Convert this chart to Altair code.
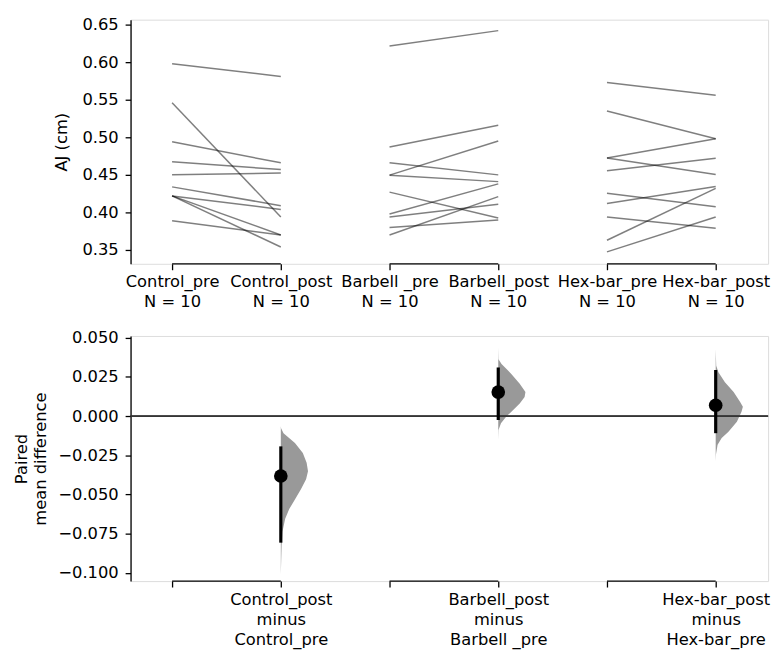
import json
import altair as alt
import pandas as pd

# ---------------- data ----------------
groups = ["Control_pre", "Control_post", "Barbell _pre", "Barbell_post",
          "Hex-bar_pre", "Hex-bar_post"]
group_n = [10, 10, 10, 10, 10, 10]

control_pre = [0.598, 0.546, 0.494, 0.4675, 0.450, 0.434, 0.422, 0.422, 0.422, 0.389]
control_post = [0.581, 0.394, 0.466, 0.457, 0.4525, 0.409, 0.404, 0.370, 0.354, 0.370]
barbell_pre = [0.6215, 0.487, 0.466, 0.4496, 0.4496, 0.427, 0.398, 0.394, 0.380, 0.370]
barbell_post = [0.642, 0.516, 0.450, 0.495, 0.441, 0.3925, 0.438, 0.411, 0.390, 0.421]
hexbar_pre = [0.573, 0.535, 0.4725, 0.4725, 0.4555, 0.4255, 0.412, 0.394, 0.363, 0.3475]
hexbar_post = [0.556, 0.498, 0.498, 0.4505, 0.472, 0.4075, 0.4345, 0.379, 0.432, 0.394]

effect_mean = [-0.0382, 0.0153, 0.0069]
ci_low = [-0.0807, -0.0025, -0.0109]
ci_high = [-0.0193, 0.0310, 0.0294]

# bootstrap distributions (value, relative density)
ctrl_kde_y = [-0.0065, -0.0077, -0.0109, -0.0172, -0.0235, -0.0298, -0.0351, -0.0403,
              -0.0466, -0.0529, -0.0592, -0.0655, -0.0738, -0.0823, -0.0948, -0.1011]
ctrl_kde_d = [0.0, 0.01, 0.10, 0.52, 0.81, 0.95, 1.0, 0.93, 0.74, 0.53, 0.31, 0.16,
              0.06, 0.03, 0.01, 0.0]
barb_kde_y = [0.0436, 0.0363, 0.0332, 0.0269, 0.0206, 0.0153, 0.0121, 0.0080, 0.0038,
              -0.0004, -0.0046, -0.0088, -0.0151]
barb_kde_d = [0.0, 0.01, 0.12, 0.48, 0.79, 1.0, 0.97, 0.79, 0.54, 0.29, 0.10, 0.01, 0.0]
hexb_kde_y = [0.0426, 0.0321, 0.0279, 0.0216, 0.0153, 0.0090, 0.0059, 0.0027, -0.0036,
              -0.0099, -0.0140, -0.0183, -0.0245, -0.0288]
hexb_kde_d = [0.0, 0.02, 0.10, 0.34, 0.66, 0.90, 1.0, 0.95, 0.78, 0.47, 0.22, 0.07, 0.01, 0.0]

top_ticks = [0.35, 0.40, 0.45, 0.50, 0.55, 0.60, 0.65]
bottom_ticks = [-0.100, -0.075, -0.050, -0.025, 0.000, 0.025, 0.050]

# ---------------- tables ----------------
pairs = [(control_pre, control_post), (barbell_pre, barbell_post), (hexbar_pre, hexbar_post)]
rows = []
for gi, (pre, post) in enumerate(pairs):
    for k, (a, b) in enumerate(zip(pre, post)):
        rows.append({"pos": 2 * gi, "value": a, "id": f"{gi}-{k}"})
        rows.append({"pos": 2 * gi + 1, "value": b, "id": f"{gi}-{k}"})
lines_df = pd.DataFrame(rows)

bracket_df = pd.DataFrame({"start": [0, 2, 4], "end": [1, 3, 5]})

VIOLIN_W = 0.25  # half-violin max width in x units
kdes = [(ctrl_kde_y, ctrl_kde_d), (barb_kde_y, barb_kde_d), (hexb_kde_y, hexb_kde_d)]
vrows = []
for gi, (ys, ds) in enumerate(kdes):
    p = 2 * gi + 1
    for y, d in zip(ys, ds):
        vrows.append({"g": gi, "pos": p, "y": y, "x2": p + d * VIOLIN_W})
violin_df = pd.DataFrame(vrows)

eff_df = pd.DataFrame({"pos": [1, 3, 5], "mean": effect_mean, "lo": ci_low, "hi": ci_high})

top_labels = [[g, f"N = {n}"] for g, n in zip(groups, group_n)]
bottom_labels = []
for i, g in enumerate(groups):
    if i % 2 == 1:
        bottom_labels.append([g, "minus", groups[i - 1]])
    else:
        bottom_labels.append([""])

FONT = "DejaVu Sans"
FS = 16.5
XDOM = [-0.382, 5.482]
TOP_DOM = [0.3316, 0.6566]
BOT_DOM = [-0.1052, 0.0511]
W = 645
H_TOP = 247
H_BOT = 248

def x_axis(labels, lh, pad):
    return alt.Axis(values=[0, 1, 2, 3, 4, 5],
                    labelExpr=json.dumps(labels) + "[datum.value]",
                    title=None, domain=False, grid=False, ticks=True, tickSize=6,
                    tickColor="black", tickWidth=1.3, labelPadding=pad,
                    labelFont=FONT, labelFontSize=FS, labelColor="black",
                    labelLineHeight=lh, labelBaseline="top", labelAlign="center",
                    labelFlush=False, labelOverlap=False)

def y_axis(values, fmt, title, tx, th, tlh):
    return alt.Axis(values=values, format=fmt, title=title, titleX=tx, titleY=th / 2,
                    titleAngle=-90, titleAlign="center", titleBaseline="middle",
                    titleFont=FONT, titleFontSize=FS, titleFontWeight="normal",
                    titleColor="black", titleLineHeight=tlh,
                    grid=False, tickSize=5.5, tickColor="black", tickWidth=1.3,
                    domainColor="black", domainWidth=1.3, labelPadding=7,
                    labelFont=FONT, labelFontSize=FS, labelColor="black")

xs_top = alt.X("pos:Q", scale=alt.Scale(domain=XDOM, nice=False, zero=False),
               axis=x_axis(top_labels, 20, 4))
ys_top = alt.Y("value:Q", scale=alt.Scale(domain=TOP_DOM, nice=False, zero=False),
               axis=y_axis(top_ticks, ".2f", "AJ (cm)", -70, H_TOP, 19))

top_lines = alt.Chart(lines_df).mark_line(color="black", opacity=0.5, strokeWidth=1.5).encode(
    x=xs_top, y=ys_top, detail="id:N")
top_brackets = alt.Chart(bracket_df).mark_rule(color="black", strokeWidth=1.3).encode(
    x=alt.X("start:Q"), x2="end:Q", y=alt.datum(TOP_DOM[0]))
top = alt.layer(top_lines, top_brackets).properties(width=W, height=H_TOP)

xs_bot = alt.X("pos:Q", scale=alt.Scale(domain=XDOM, nice=False, zero=False),
               axis=x_axis(bottom_labels, 20, 5))
ys_bot_scale = alt.Scale(domain=BOT_DOM, nice=False, zero=False)

violins = alt.Chart(violin_df).mark_area(orient="horizontal", color="#999999", opacity=1).encode(
    y=alt.Y("y:Q", scale=ys_bot_scale,
            axis=y_axis(bottom_ticks, ".3f", ["Paired", "mean difference"], -110, H_BOT, 19)),
    x=xs_bot, x2="x2:Q", detail="g:N")
zero_line = alt.Chart(eff_df).mark_rule(color="#333333", strokeWidth=1.3).encode(
    y=alt.datum(0))
ci = alt.Chart(eff_df).mark_rule(color="black", strokeWidth=3.2).encode(
    x="pos:Q", y="lo:Q", y2="hi:Q")
dots = alt.Chart(eff_df).mark_circle(color="black", opacity=1, size=190).encode(
    x="pos:Q", y="mean:Q")
bot_brackets = alt.Chart(bracket_df).mark_rule(color="black", strokeWidth=1.3).encode(
    x=alt.X("start:Q"), x2="end:Q", y=alt.datum(BOT_DOM[0]))
bottom = alt.layer(violins, zero_line, ci, dots, bot_brackets).properties(width=W, height=H_BOT)

chart = alt.vconcat(top, bottom, spacing=73, bounds="flush").properties(
    padding={"left": 5, "top": 4, "right": 5, "bottom": 5}
).configure_view(stroke=None).configure(background="white")

chart.save("out.html", embed_options={"renderer": "svg", "actions": False})
